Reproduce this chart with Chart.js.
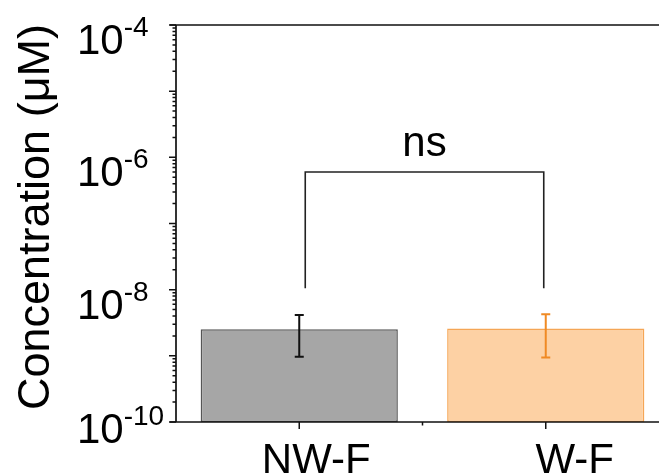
<!DOCTYPE html>
<html>
<head>
<meta charset="utf-8">
<script src="https://cdn.jsdelivr.net/npm/chart.js@4.4.0/dist/chart.umd.min.js"></script>
<style>
  html, body { margin: 0; padding: 0; background: #fff; overflow: hidden; }
  #wrap { width: 680px; height: 474px; position: relative; }
</style>
</head>
<body>
<div id="wrap"><canvas id="chart"></canvas></div>
<script>
const categories = ["NW-F", "W-F"];
const meanValues = [2.52e-9, 2.58e-9];
const errLow = [9.7e-10, 9.4e-10];
const errHigh = [4.15e-9, 4.25e-9];
const yTickExponents = [-4, -6, -8, -10];
const yMin = 1e-10;
const yMax = 1e-4;
const yTitle = "Concentration (\u03bcM)";
const sigLabel = "ns";
const bracketTop = 6e-7;
const bracketFoot = 1.05e-8;

const fillColors = ["#a6a6a6", "#fdd1a4"];
const edgeColors = ["#555555", "#f5a656"];
const errColors = ["#111111", "#f08a24"];
const FONT = '"Liberation Sans", Arial, sans-serif';

// hand-drawn axes, ticks, labels, error bars and bracket
const framePlugin = {
  id: "frame",
  afterDatasetsDraw(chart) {
    const { ctx, chartArea: a, scales: { x, y } } = chart;
    ctx.save();

    // error bars
    ctx.lineWidth = 2;
    categories.forEach((c, i) => {
      const px = x.getPixelForValue(i);
      const top = y.getPixelForValue(errHigh[i]);
      const bot = y.getPixelForValue(errLow[i]);
      ctx.strokeStyle = errColors[i];
      ctx.beginPath();
      ctx.moveTo(px, top); ctx.lineTo(px, bot);
      ctx.moveTo(px - 4.5, top); ctx.lineTo(px + 4.5, top);
      ctx.moveTo(px - 4.5, bot); ctx.lineTo(px + 4.5, bot);
      ctx.stroke();
    });

    // axes frame
    ctx.strokeStyle = "#111";
    ctx.lineWidth = 1.7;
    ctx.beginPath();
    ctx.moveTo(a.left, a.top); ctx.lineTo(a.left, a.bottom);
    ctx.moveTo(a.left - 6, a.bottom); ctx.lineTo(a.right, a.bottom);
    ctx.moveTo(a.left - 6, a.top); ctx.lineTo(a.right, a.top);
    ctx.stroke();

    // y ticks (major decades, minor 2..9)
    ctx.lineWidth = 1.5;
    ctx.beginPath();
    for (let e = Math.log10(yMin); e <= Math.log10(yMax); e++) {
      const py = y.getPixelForValue(Math.pow(10, e));
      ctx.moveTo(a.left - 7, py); ctx.lineTo(a.left, py);
      if (e < Math.log10(yMax)) {
        for (let k = 2; k <= 9; k++) {
          const pm = y.getPixelForValue(k * Math.pow(10, e));
          ctx.moveTo(a.left - 3.5, pm); ctx.lineTo(a.left, pm);
        }
      }
    }
    // x ticks
    categories.forEach((c, i) => {
      const px = x.getPixelForValue(i);
      ctx.moveTo(px, a.bottom); ctx.lineTo(px, a.bottom + 7);
    });
    const mid = (x.getPixelForValue(0) + x.getPixelForValue(1)) / 2;
    ctx.moveTo(mid, a.bottom); ctx.lineTo(mid, a.bottom + 3.5);
    ctx.stroke();

    // y tick labels 10^n
    ctx.fillStyle = "#000";
    ctx.textAlign = "left";
    ctx.textBaseline = "alphabetic";
    yTickExponents.forEach((e) => {
      const py = y.getPixelForValue(Math.pow(10, e));
      const base = e === Math.log10(yMin) ? py + 21 : py + 29;
      ctx.font = "42px " + FONT;
      ctx.fillText("10", 77, base);
      const w = ctx.measureText("10").width;
      ctx.font = "28px " + FONT;
      ctx.fillText("-" + Math.abs(e), 77 + w, base - 18);
    });

    // x category labels
    const labelShift = [17, 29];
    ctx.font = "42px " + FONT;
    ctx.textAlign = "center";
    categories.forEach((c, i) => {
      ctx.fillText(c, x.getPixelForValue(i) + labelShift[i], 473);
    });

    // y title
    ctx.save();
    ctx.translate(49, 217);
    ctx.rotate(-Math.PI / 2);
    ctx.font = "45px " + FONT;
    ctx.fillText(yTitle, 0, 0);
    ctx.restore();

    // significance bracket
    const bx0 = x.getPixelForValue(0) + 6;
    const bx1 = x.getPixelForValue(1) - 2;
    const by = y.getPixelForValue(bracketTop);
    const bf = y.getPixelForValue(bracketFoot);
    ctx.strokeStyle = "#222";
    ctx.lineWidth = 1.6;
    ctx.beginPath();
    ctx.moveTo(bx0, bf); ctx.lineTo(bx0, by); ctx.lineTo(bx1, by); ctx.lineTo(bx1, bf);
    ctx.stroke();
    ctx.font = "42px " + FONT;
    ctx.textAlign = "center";
    ctx.fillText(sigLabel, (bx0 + bx1) / 2, by - 16);

    ctx.restore();
  }
};

new Chart(document.getElementById("chart"), {
  type: "bar",
  data: {
    labels: categories,
    datasets: [
      {
        data: meanValues,
        backgroundColor: fillColors,
        borderColor: edgeColors,
        borderWidth: 1.5,
        borderSkipped: false,
        barPercentage: 1.0,
        categoryPercentage: 0.8,
      },
    ],
  },
  options: {
    responsive: true,
    maintainAspectRatio: false,
    animation: false,
    layout: { padding: { left: 176, top: 25, right: 11, bottom: 52 } },
    plugins: { legend: { display: false }, tooltip: { enabled: false } },
    scales: {
      x: { type: "category", display: false, offset: true },
      y: { type: "logarithmic", display: false, min: yMin, max: yMax },
    },
  },
  plugins: [framePlugin],
});
</script>
</body>
</html>
